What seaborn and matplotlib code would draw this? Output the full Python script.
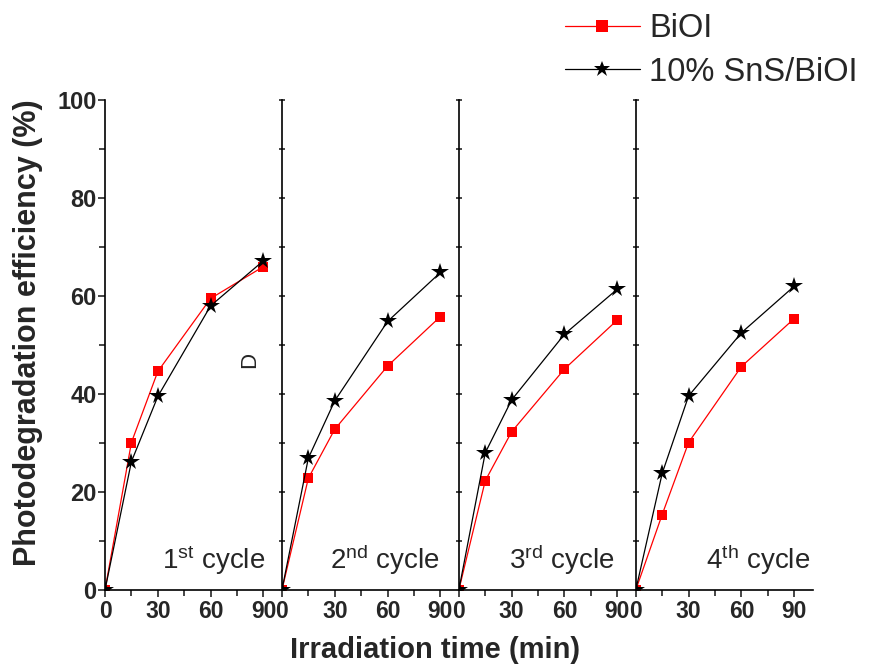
import matplotlib
matplotlib.use("Agg")
import matplotlib.pyplot as plt
import seaborn as sns
import numpy as np
from matplotlib.ticker import MultipleLocator, FixedLocator
from matplotlib.lines import Line2D

sns.set_theme(style="white")
plt.rcParams['font.family'] = ['Liberation Sans', 'DejaVu Sans']
plt.rcParams['mathtext.fontset'] = 'custom'
plt.rcParams['mathtext.rm'] = 'Liberation Sans'

# ---- data ----
time_min = [0, 15, 30, 60, 90]
cycles = ["1st", "2nd", "3rd", "4th"]
cycle_num = ["1", "2", "3", "4"]
cycle_sup = ["st", "nd", "rd", "th"]
biOI = [
    [0, 30.1, 44.6, 59.5, 66.0],
    [0, 22.8, 32.8, 45.7, 55.8],
    [0, 22.3, 32.3, 45.1, 55.1],
    [0, 15.4, 30.1, 45.6, 55.4],
]
sns_biOI = [
    [0, 26.2, 39.5, 58.0, 67.2],
    [0, 26.9, 38.6, 54.8, 64.8],
    [0, 28.0, 38.8, 52.2, 61.4],
    [0, 23.8, 39.6, 52.5, 62.0],
]
series_names = ["BiOI", "10% SnS/BiOI"]
x_ticks = [0, 30, 60, 90]
y_ticks = [0, 20, 40, 60, 80, 100]

W, H = 875, 668
fig = plt.figure(figsize=(W / 100, H / 100), dpi=100)
left, right = 105 / W, 812.7 / W
bottom, top = 1 - 590 / H, 1 - 100 / H
pw = (right - left) / 4
axes = []
label_x = [91, 89.7, 88.4, 99]
for i in range(4):
    ax = fig.add_axes([left + i * pw, bottom, pw, top - bottom])
    axes.append(ax)
    sns.lineplot(x=time_min, y=biOI[i], ax=ax, color='red', marker='s',
                 markersize=7.8, markeredgewidth=0, linewidth=0.9)
    sns.lineplot(x=time_min, y=sns_biOI[i], ax=ax, color='black', marker='*',
                 markersize=13, markeredgewidth=0, linewidth=0.9)
    ax.set_xlim(0, 100.5)
    ax.set_ylim(0, 100)
    for s in ['top', 'right']:
        ax.spines[s].set_visible(False)
    for s in ['left', 'bottom']:
        ax.spines[s].set_linewidth(1.2)
        ax.spines[s].set_color('black')
    ax.xaxis.set_major_locator(FixedLocator(x_ticks))
    ax.xaxis.set_minor_locator(FixedLocator([15, 45, 75]))
    ax.set_xticklabels([str(t) for t in x_ticks], fontsize=16.5, fontweight='bold')
    ax.yaxis.set_major_locator(FixedLocator(y_ticks))
    ax.yaxis.set_minor_locator(MultipleLocator(10))
    ax.tick_params(axis='x', which='major', direction='out', length=5, width=1.2,
                   bottom=True, pad=2)
    ax.tick_params(axis='x', which='minor', direction='out', length=4, width=1.2, bottom=True)
    if i == 0:
        ax.set_yticklabels([str(t) for t in y_ticks], fontsize=17, fontweight='bold')
        ax.tick_params(axis='y', which='major', direction='out', length=5, width=1.2,
                       left=True, pad=1)
        ax.tick_params(axis='y', which='minor', direction='out', length=4, width=1.2, left=True)
    else:
        ax.set_yticklabels([])
        ax.tick_params(axis='y', which='both', direction='inout', length=4, width=1.2,
                       left=True)
    ax.set_xlabel("")
    ax.set_ylabel("")
    ax.patch.set_alpha(0)
    ax.text(label_x[i], 4.3,
            r"$\mathregular{" + cycle_num[i] + "^{" + cycle_sup[i] + "}}$ cycle",
            ha='right', va='baseline', fontsize=20, family='Liberation Sans')

axes[0].text(82, 47, "D", rotation=90, ha='center', va='center', fontsize=16,
             family='Liberation Sans')

fig.text(435 / W, 1 - 650 / H, "Irradiation time (min)", ha='center',
         va='center', fontsize=21, fontweight='bold')
fig.text(28 / W, 1 - 333 / H, "Photodegradation efficiency (%)", ha='center',
         va='center', rotation=90, fontsize=22, fontweight='bold')

handles = [Line2D([], [], color='red', marker='s', markersize=8, markeredgewidth=0, linewidth=0.9),
           Line2D([], [], color='black', marker='*', markersize=12, markeredgewidth=0, linewidth=0.9)]
fig.legend(handles, series_names, loc='upper left', bbox_to_anchor=(558 / W, 0.99),
           frameon=False, prop={'family': 'Liberation Sans', 'size': 23.5},
           handlelength=2.3, handletextpad=0.3, labelspacing=0.38, borderpad=0.1,
           borderaxespad=0.1)

fig.savefig("out.png", dpi=100)
